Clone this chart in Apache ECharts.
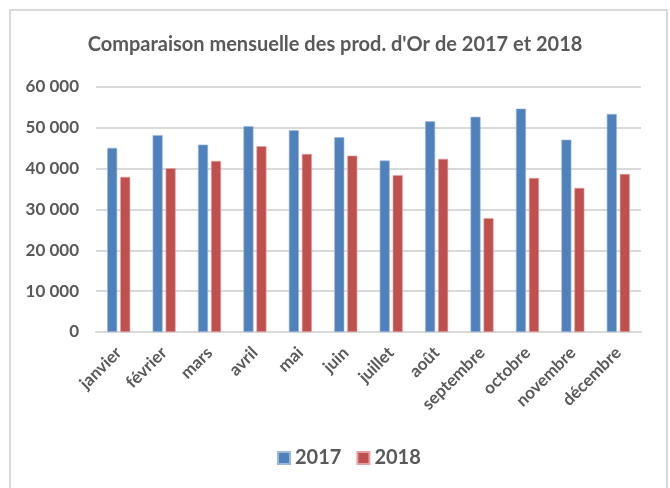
<!DOCTYPE html>
<html>
<head>
<meta charset="utf-8">
<script src="https://cdn.jsdelivr.net/npm/echarts@6/dist/echarts.min.js"></script>
<style>
  html, body { margin: 0; padding: 0; background: #fff; }
  #chart { width: 670px; height: 488px; }
</style>
</head>
<body>
<div id="chart"></div>
<script>
// données
const months = ['janvier', 'février', 'mars', 'avril', 'mai', 'juin', 'juillet', 'août', 'septembre', 'octobre', 'novembre', 'décembre']
const prod2017 = [45100, 48200, 45900, 50400, 49400, 47700, 42000, 51600, 52700, 54700, 47100, 53400]
const prod2018 = [38000, 40100, 41900, 45500, 43600, 43200, 38400, 42400, 27900, 37700, 35300, 38700]
const yTicks = [0, 10000, 20000, 30000, 40000, 50000, 60000]

const textColor = '#595959'
const font = 'Lato'

const chart = echarts.init(document.getElementById('chart'))

const fmt = (v) => String(v).replace(/\B(?=(\d{3})+(?!\d))/g, ' ')

const option = {
  animation: false,
  title: {
    text: "Comparaison mensuelle des prod. d'Or de 2017 et 2018",
    left: 'center',
    top: 30,
    textStyle: { color: textColor, fontFamily: font, fontWeight: 'bold', fontSize: 20 },
  },
  graphic: [
    {
      type: 'rect',
      shape: { x: 10, y: 10, width: 657, height: 500 },
      style: { fill: 'none', stroke: '#d9d9d9', lineWidth: 2 },
      silent: true,
    },
  ],
  legend: {
    bottom: 15,
    left: 272,
    itemWidth: 12,
    itemHeight: 12,
    itemGap: 15,
    icon: 'rect',
    textStyle: { color: textColor, fontFamily: font, fontWeight: 'bold', fontSize: 20 },
    data: ['2017', '2018'],
  },
  grid: { left: 96, right: 29, top: 87, bottom: 156 },
  xAxis: {
    type: 'category',
    data: months,
    axisTick: { show: false },
    axisLine: { lineStyle: { color: '#d9d9d9', width: 2 } },
    axisLabel: {
      rotate: 45,
      interval: 0,
      margin: 18,
      color: textColor,
      fontFamily: font,
      fontWeight: 'bold',
      fontSize: 17,
    },
  },
  yAxis: {
    type: 'value',
    min: yTicks[0],
    max: yTicks[yTicks.length - 1],
    interval: yTicks[1] - yTicks[0],
    axisLine: { show: false },
    axisTick: { show: false },
    splitLine: { lineStyle: { color: '#d9d9d9', width: 2 } },
    axisLabel: {
      margin: 17,
      color: textColor,
      fontFamily: font,
      fontWeight: 'bold',
      fontSize: 17,
      formatter: fmt,
    },
  },
  series: [
    {
      name: '2017',
      type: 'bar',
      data: prod2017,
      barWidth: 10,
      barGap: '30%',
      itemStyle: { color: '#4F81BD', borderColor: '#9db8dc', borderWidth: 0.6 },
    },
    {
      name: '2018',
      type: 'bar',
      data: prod2018,
      barWidth: 10,
      itemStyle: { color: '#C0504D', borderColor: '#e0a3a1', borderWidth: 0.6 },
    },
  ],
}

chart.setOption(option)
</script>
</body>
</html>
